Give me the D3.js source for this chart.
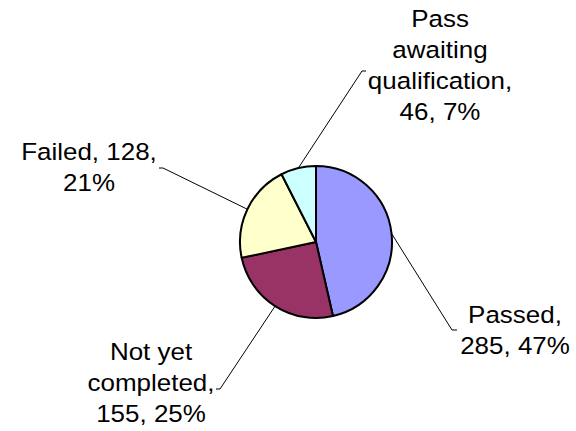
<!DOCTYPE html>
<html>
<head>
<meta charset="utf-8">
<script src="https://cdn.jsdelivr.net/npm/d3@7"></script>
<style>
  html, body { margin: 0; padding: 0; background: #ffffff; }
  svg { display: block; }
  text { font-family: "Liberation Sans", Arial, sans-serif; fill: #000; }
</style>
</head>
<body>
<svg id="chart" width="576" height="431"></svg>
<script>
// ---- data ----
const categories = ["Passed", "Not yet completed", "Failed", "Pass awaiting qualification"];
const values = [285, 155, 128, 46];
const percentLabels = ["47%", "25%", "21%", "7%"];
const colors = ["#9999FF", "#993366", "#FFFFCC", "#CCFFFF"];
// label text wrapped into lines as in the reference
const labelLines = [
  ["Passed,", "285, 47%"],
  ["Not yet", "completed,", "155, 25%"],
  ["Failed, 128,", "21%"],
  ["Pass", "awaiting", "qualification,", "46, 7%"]
];

// ---- layout ----
const W = 576, H = 431;
const cx = 316, cy = 242, R = 76;
const fontSize = 24.5, lineH = 31, stretch = 1.06;
// label block centre x, first baseline y; leader bend point and end point
const labelLayout = [
  { x: 515, y: 323, bend: [452, 330], end: [457, 330] },
  { x: 151, y: 360, bend: [220, 389], end: [216, 389] },
  { x: 89,  y: 160, bend: [163, 168], end: [159, 168] },
  { x: 440, y: 27,  bend: [362, 71],  end: [366, 71] }
];

const svg = d3.select("#chart");
const g = svg.append("g").attr("transform", `translate(${cx},${cy})`);

const pie = d3.pie().sort(null).value(d => d)(values);
const arc = d3.arc().innerRadius(0).outerRadius(R);

g.selectAll("path.slice")
  .data(pie)
  .join("path")
  .attr("class", "slice")
  .attr("d", arc)
  .attr("fill", (d, i) => colors[i])
  .attr("stroke", "#000")
  .attr("stroke-width", 2)
  .attr("stroke-linejoin", "round");

// leader lines
pie.forEach((d, i) => {
  const mid = (d.startAngle + d.endAngle) / 2;
  const px = cx + R * Math.sin(mid);
  const py = cy - R * Math.cos(mid);
  const L = labelLayout[i];
  svg.append("polyline")
    .attr("points", [[px, py], L.bend, L.end].map(p => p.join(",")).join(" "))
    .attr("fill", "none")
    .attr("stroke", "#000")
    .attr("stroke-width", 1);
});

// labels
labelLines.forEach((lines, i) => {
  const L = labelLayout[i];
  lines.forEach((t, k) => {
    svg.append("text")
      .attr("transform", `translate(${L.x},${L.y + k * lineH}) scale(${stretch},1)`)
      .attr("text-anchor", "middle")
      .attr("font-size", fontSize)
      .text(t);
  });
});
</script>
</body>
</html>
